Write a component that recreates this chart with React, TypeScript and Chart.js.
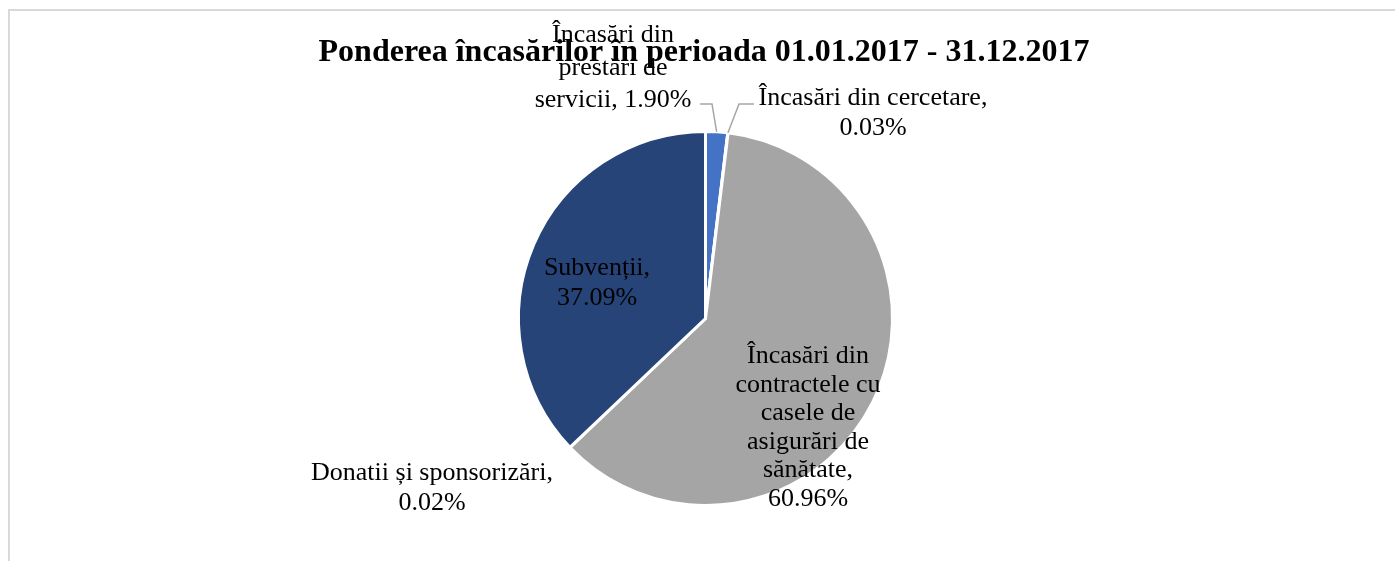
import React, { useEffect, useRef } from "react";
import { Chart, registerables } from "chart.js";

Chart.register(...registerables);

const TITLE = "Ponderea încasărilor în perioada 01.01.2017 - 31.12.2017";

const categories = [
  "Încasări din prestări de servicii",
  "Încasări din cercetare",
  "Încasări din contractele cu casele de asigurări de sănătate",
  "Donatii și sponsorizări",
  "Subvenții",
];

const values = [1.9, 0.03, 60.96, 0.02, 37.09];

// wrapped label lines of each category name
const nameLines = [
  ["Încasări din", "prestări de", "servicii,"],
  ["Încasări din cercetare,"],
  ["Încasări din", "contractele cu", "casele de", "asigurări de", "sănătate,"],
  ["Donatii și sponsorizări,"],
  ["Subvenții,"],
];

// whether the percentage sits on the last name line
const pctInline = [true, false, false, false, false];

const colors = ["#4472C4", "#ED7D31", "#A5A5A5", "#FFC000", "#264478"];

// label layout relative to pie centre: [centre x offset, first baseline offset, line height]
const labelPos = [
  [-92.5, -276.5, 32.5],
  [167.5, -213.5, 30],
  [102.5, 44.5, 28.5],
  [-273.5, 161.5, 30],
  [-108.5, -43.5, 30],
];

// leader lines: [elbow dx, elbow dy, end dx] relative to pie centre, null = none
const leaders = [
  [6.5, -214.5, -5.5],
  [33.5, -214.5, 48.5],
  null,
  null,
  null,
];

const LABEL_FONT = "26px 'Liberation Serif', 'Times New Roman', serif";

const labelPlugin = {
  id: "sliceLabels",
  afterDatasetsDraw(chart: any) {
    const ctx = chart.ctx as CanvasRenderingContext2D;
    const meta = chart.getDatasetMeta(0);
    ctx.save();
    meta.data.forEach((arc: any, i: number) => {
      const p = arc.getProps(["x", "y", "startAngle", "endAngle", "outerRadius"], true);
      const mid = (p.startAngle + p.endAngle) / 2;
      const ld = leaders[i];
      if (ld) {
        const ax = p.x + Math.cos(mid) * p.outerRadius;
        const ay = p.y + Math.sin(mid) * p.outerRadius;
        ctx.beginPath();
        ctx.strokeStyle = "#A6A6A6";
        ctx.lineWidth = 1.5;
        ctx.moveTo(ax, ay);
        ctx.lineTo(p.x + ld[0], p.y + ld[1]);
        ctx.lineTo(p.x + ld[2], p.y + ld[1]);
        ctx.stroke();
      }
      const pct = values[i].toFixed(2) + "%";
      const lines = nameLines[i].slice();
      if (pctInline[i]) lines[lines.length - 1] = lines[lines.length - 1] + " " + pct;
      else lines.push(pct);
      ctx.font = LABEL_FONT;
      ctx.fillStyle = "#000000";
      ctx.textAlign = "center";
      ctx.textBaseline = "alphabetic";
      const cx = p.x + labelPos[i][0];
      const by = p.y + labelPos[i][1];
      const lh = labelPos[i][2];
      lines.forEach((t, k) => ctx.fillText(t, cx, by + k * lh));
    });
    ctx.restore();
  },
};

const titlePlugin = {
  id: "customTitle",
  afterDraw(chart: any) {
    const ctx = chart.ctx as CanvasRenderingContext2D;
    ctx.save();
    ctx.font = "bold 32px 'Liberation Serif', 'Times New Roman', serif";
    ctx.fillStyle = "#000000";
    ctx.textAlign = "center";
    ctx.textBaseline = "alphabetic";
    ctx.fillText(TITLE, 696, 53);
    ctx.restore();
  },
};

export default function App() {
  const ref = useRef<HTMLCanvasElement>(null);
  useEffect(() => {
    if (!ref.current) return;
    const chart = new Chart(ref.current, {
      type: "pie",
      data: {
        labels: categories,
        datasets: [
          {
            data: values,
            backgroundColor: colors,
            borderColor: "#FFFFFF",
            borderWidth: 3,
          },
        ],
      },
      options: {
        responsive: false,
        animation: false,
        layout: { padding: { top: 122, bottom: 54, left: 8, right: 0 } },
        plugins: {
          legend: { display: false },
          title: { display: false },
          tooltip: { enabled: false },
        },
      },
      plugins: [labelPlugin, titlePlugin],
    });
    return () => chart.destroy();
  }, []);
  return (
    <div
      style={{
        position: "fixed",
        left: 8,
        top: 8,
        width: 1387,
        height: 553,
        overflow: "hidden",
        background: "#FFFFFF",
      }}
    >
      <div
        style={{
          position: "absolute",
          left: 0,
          top: 1,
          width: 1500,
          height: 800,
          border: "2px solid #D9D9D9",
          boxSizing: "border-box",
        }}
      />
      <canvas
        ref={ref}
        width={1387}
        height={553}
        style={{ position: "absolute", left: 0, top: 0, width: 1387, height: 553 }}
      />
    </div>
  );
}
